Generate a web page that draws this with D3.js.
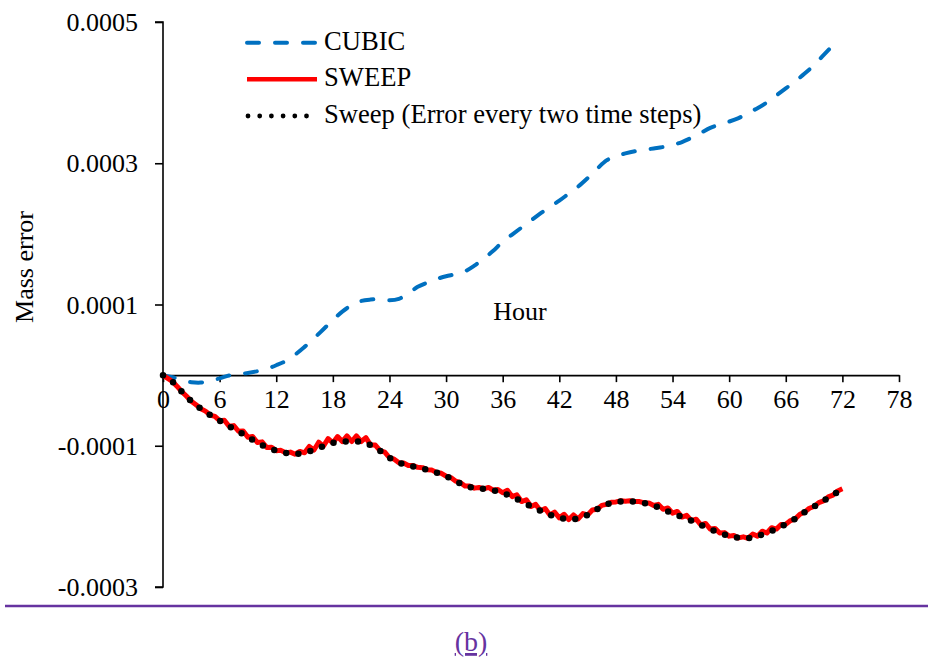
<!DOCTYPE html>
<html>
<head>
<meta charset="utf-8">
<script src="https://cdn.jsdelivr.net/npm/d3@7/dist/d3.min.js"></script>
<style>
  html, body { margin: 0; padding: 0; background: #fff; }
  svg { display: block; }
  text { font-family: "Liberation Serif", "Times New Roman", serif; fill: #000; }
</style>
</head>
<body>
<svg id="chart" width="928" height="661"></svg>
<script>
// Mass error values are stored in units of 1e-4.
const UNIT = 1e-4;

// CUBIC scheme, hourly from 0 h to 71 h
const cubicHours = d3.range(0, 72);
const cubicError = [
  0, -0.03, -0.075, -0.10, -0.105, -0.08, -0.045, -0.005, 0.015, 0.03,
  0.055, 0.09, 0.14, 0.20, 0.29, 0.40, 0.52, 0.65, 0.78, 0.90,
  0.99, 1.05, 1.07, 1.075, 1.06, 1.08, 1.16, 1.25, 1.31, 1.36,
  1.40, 1.43, 1.47, 1.55, 1.65, 1.76, 1.89, 1.99, 2.09, 2.19,
  2.29, 2.38, 2.47, 2.57, 2.67, 2.79, 2.92, 3.04, 3.10, 3.14,
  3.17, 3.19, 3.21, 3.23, 3.26, 3.30, 3.36, 3.43, 3.50, 3.55,
  3.59, 3.64, 3.71, 3.78, 3.86, 3.96, 4.06, 4.16, 4.27, 4.39,
  4.53, 4.67
];

// SWEEP scheme: error sampled every two time steps (whole hours, 0 h .. 72 h)
const sweepEvenHours = d3.range(0, 73);
const sweepEvenError = [
  0, -0.09, -0.235, -0.37, -0.475, -0.565, -0.645, -0.725, -0.795, -0.88,
  -0.955, -1.025, -1.07, -1.10, -1.12, -1.10, -1.06, -1.005, -0.96, -0.94,
  -0.94, -0.94, -0.99, -1.07, -1.17, -1.24, -1.28, -1.305, -1.34, -1.38,
  -1.43, -1.50, -1.57, -1.60, -1.61, -1.63, -1.665, -1.72, -1.79, -1.86,
  -1.92, -1.98, -2.02, -2.045, -2.035, -1.98, -1.90, -1.83, -1.795, -1.785,
  -1.79, -1.81, -1.845, -1.90, -1.955, -2.01, -2.06, -2.12, -2.18, -2.235,
  -2.28, -2.305, -2.31, -2.28, -2.235, -2.18, -2.11, -2.035, -1.94, -1.86,
  -1.78, -1.70, -1.61
];

// SWEEP scheme: the intermediate time steps (0.5 h .. 71.5 h)
const sweepOddHours = d3.range(0.5, 72, 1);
const sweepOddError = [
  -0.045, -0.16, -0.30, -0.42, -0.51, -0.585, -0.64, -0.715, -0.79, -0.87,
  -0.945, -1.02, -1.065, -1.09, -1.08, -1.01, -0.95, -0.90, -0.87, -0.86,
  -0.86, -0.885, -0.99, -1.09, -1.19, -1.245, -1.28, -1.31, -1.345, -1.39,
  -1.45, -1.52, -1.57, -1.59, -1.59, -1.62, -1.63, -1.695, -1.765, -1.83,
  -1.89, -1.94, -1.97, -1.98, -1.96, -1.91, -1.845, -1.80, -1.78, -1.78,
  -1.79, -1.81, -1.83, -1.88, -1.93, -1.985, -2.04, -2.10, -2.17, -2.23,
  -2.27, -2.29, -2.25, -2.21, -2.16, -2.115, -2.06, -1.97, -1.885, -1.805,
  -1.725, -1.64
];

const xTicks = d3.range(0, 79, 6);
const yTicks = [-0.0003, -0.0001, 0.0001, 0.0003, 0.0005];
const yTickLabels = ["-0.0003", "-0.0001", "0.0001", "0.0003", "0.0005"];

const legendItems = [
  { key: "cubic", label: "CUBIC" },
  { key: "sweep", label: "SWEEP" },
  { key: "dots", label: "Sweep (Error every two time steps)" }
];

const svg = d3.select("#chart");
const FONT = 26;
const LEGEND_FONT = 26.6;

const x = d3.scaleLinear().domain([0, 78]).range([163, 899]);
const y = d3.scaleLinear().domain([-0.0003, 0.0005]).range([587, 22]);

// Series tables
const cubic = cubicHours.map((h, i) => ({ h, v: cubicError[i] * UNIT }));
const sweepEven = sweepEvenHours.map((h, i) => ({ h, v: sweepEvenError[i] * UNIT }));
const sweepOdd = sweepOddHours.map((h, i) => ({ h, v: sweepOddError[i] * UNIT }));
const sweep = sweepEven.concat(sweepOdd).sort((a, b) => a.h - b.h);

// Y axis
const yAxis = svg.append("g")
  .attr("transform", `translate(${x(0)},0)`)
  .call(d3.axisLeft(y).tickValues(yTicks)
    .tickFormat((d, i) => yTickLabels[i]).tickSize(8).tickPadding(17));
yAxis.select(".domain").attr("stroke", "#000").attr("stroke-width", 1.6)
  .attr("d", `M-8,${y(0.0005)}H0V${y(-0.0003)}H-8`);
yAxis.selectAll(".tick line").attr("stroke", "#000").attr("stroke-width", 1.6);
yAxis.selectAll(".tick text")
  .attr("font-family", "Liberation Serif, serif").attr("font-size", FONT)
  .attr("fill", "#000").attr("dy", "0.33em");

// X axis through zero
const xAxis = svg.append("g")
  .attr("transform", `translate(0,${y(0)})`)
  .call(d3.axisBottom(x).tickValues(xTicks).tickSize(7).tickPadding(6).tickSizeOuter(0));
xAxis.select(".domain").attr("stroke", "#000").attr("stroke-width", 1.6);
xAxis.selectAll(".tick line").attr("stroke", "#000").attr("stroke-width", 1.6);
xAxis.selectAll(".tick text")
  .attr("font-family", "Liberation Serif, serif").attr("font-size", FONT)
  .attr("fill", "#000").attr("dy", "0.75em");

// Axis titles
svg.append("text")
  .attr("transform", `translate(33,267) rotate(-90)`)
  .attr("text-anchor", "middle").attr("font-size", FONT)
  .text("Mass error");
svg.append("text")
  .attr("x", 520).attr("y", 320)
  .attr("text-anchor", "middle").attr("font-size", FONT)
  .text("Hour");

// Lines
const line = d3.line().x(d => x(d.h)).y(d => y(d.v));
const smooth = d3.line().x(d => x(d.h)).y(d => y(d.v)).curve(d3.curveCatmullRom.alpha(0.5));

const styles = {
  cubic: { stroke: "#0070C0", width: 4, dash: "12,16", cap: "round" },
  sweep: { stroke: "#FF0000", width: 5, dash: null, cap: "butt" },
  dots:  { stroke: "#000000", width: 6.5, dash: "0,12.3", cap: "round" }
};

function styled(sel, s) {
  sel.attr("fill", "none").attr("stroke", s.stroke).attr("stroke-width", s.width)
    .attr("stroke-linecap", s.cap).attr("stroke-linejoin", "round");
  if (s.dash) sel.attr("stroke-dasharray", s.dash);
  return sel;
}

styled(svg.append("path").datum(cubic).attr("d", smooth), styles.cubic);
styled(svg.append("path").datum(sweep).attr("d", line), styles.sweep);
styled(svg.append("path").datum(sweepEven).attr("d", line), styles.dots);

// Legend
const legendRowsY = [42.7, 79.3, 116];
const legend = svg.append("g");
legendItems.forEach((item, i) => {
  const s = Object.assign({}, styles[item.key]);
  if (item.key === "sweep") { s.width = 4.5; }
  if (item.key === "dots") { s.width = 4.8; s.dash = "0,11.7"; }
  const x1 = item.key === "dots" ? 248 : 247;
  const x2 = item.key === "dots" ? 307.5 : 317;
  styled(legend.append("line")
    .attr("x1", x1).attr("x2", x2)
    .attr("y1", legendRowsY[i]).attr("y2", legendRowsY[i]), s);
  legend.append("text")
    .attr("x", 324).attr("y", legendRowsY[i] + 6.8)
    .attr("font-size", LEGEND_FONT)
    .text(item.label);
});

// Caption rule and panel label
svg.append("line")
  .attr("x1", 5).attr("x2", 928).attr("y1", 606).attr("y2", 606)
  .attr("stroke", "#6633a0").attr("stroke-width", 2.5);
svg.append("text")
  .attr("x", 471).attr("y", 651)
  .attr("text-anchor", "middle").attr("font-size", 28)
  .attr("fill", "#6633a0").style("fill", "#6633a0")
  .attr("text-decoration", "underline")
  .text("(b)");
</script>
</body>
</html>
